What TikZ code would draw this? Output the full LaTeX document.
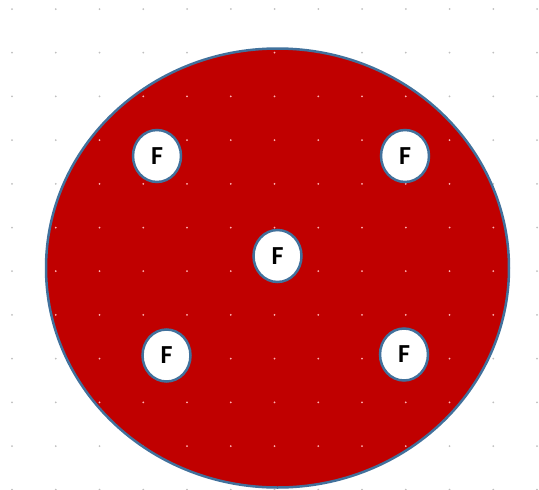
\documentclass[tikz,border=0pt]{standalone}
\usepackage{fontspec}
\setmainfont{Carlito}
\usepackage{xcolor}
\usetikzlibrary{shapes.geometric}
\definecolor{discred}{HTML}{C00000}
\definecolor{rimblue}{HTML}{41719C}
\tikzset{
  hole/.style={ellipse,draw=rimblue,line width=2.5pt,fill=white,minimum width=48pt,minimum height=52pt,inner sep=0pt,font=\fontsize{26}{26}\selectfont\bfseries},
  griddot/.style={fill=gray!50}
}

\begin{document}
\begin{tikzpicture}[x=1pt,y=-1pt]
\useasboundingbox (0,0) rectangle (539,490);
% background dots
\foreach \i in {0,...,12}
  \foreach \j in {0,...,11}
    \fill[griddot] (12+43.75*\i,9+43.7*\j) circle (1);
% the disc
\draw[fill=discred,draw=rimblue,line width=2.5pt] (277.5,268) ellipse (231.5 and 219.5);
\begin{scope}
\clip (277.5,268) ellipse (230 and 218);
\foreach \i in {0,...,12}
  \foreach \j in {0,...,11}
    \fill[red!30] (12+43.75*\i,9+43.7*\j) circle (1);
\end{scope}
% holes
\node[hole] (f1) at (157,156) {F};
\node[hole] (f2) at (405,156) {F};
\node[hole] (f3) at (277.5,256) {F};
\node[hole] (f4) at (166.5,355.5) {F};
\node[hole] (f5) at (404,354.5) {F};
\end{tikzpicture}
\end{document}
